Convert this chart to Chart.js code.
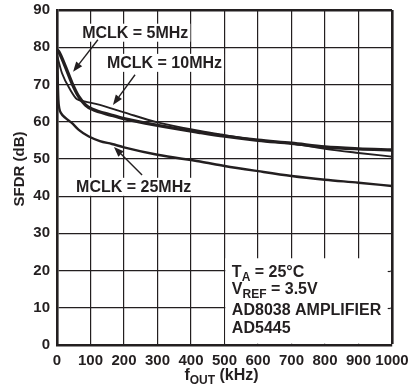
<!DOCTYPE html>
<html>
<head>
<meta charset="utf-8">
<script src="https://cdn.jsdelivr.net/npm/chart.js@4/dist/chart.umd.min.js"></script>
<style>
  html, body { margin: 0; padding: 0; background: #fff; }
  #wrap { width: 412px; height: 391px; }
</style>
</head>
<body>
<div id="wrap"><canvas id="c" width="412" height="391"></canvas></div>
<script>
// SFDR vs output frequency
var xTicks = [0, 100, 200, 300, 400, 500, 600, 700, 800, 900, 1000];
var yTicks = [0, 10, 20, 30, 40, 50, 60, 70, 80, 90];

var fOut5 = [1, 6, 25, 45, 65, 85, 104, 164, 200, 300, 427, 500, 600, 700, 800, 900, 1000];
var sfdr5 = [79.2, 78.7, 74.8, 70.3, 66.7, 64.5, 63.4, 61.7, 60.8, 59.0, 57.1, 56.1, 55.0, 54.2, 53.2, 52.7, 52.4];

var fOut10 = [1, 15, 40, 60, 85, 128, 164, 200, 300, 427, 500, 600, 700, 800, 900, 1000];
var sfdr10 = [77.5, 73.0, 68.5, 66.0, 65.4, 64.5, 63.5, 62.5, 59.8, 57.5, 56.4, 55.0, 54.1, 52.7, 51.6, 50.6];

var fOut25 = [0.5, 2, 4, 7, 12, 25, 45, 65, 95, 128, 164, 200, 300, 427, 500, 600, 700, 800, 900, 1000];
var sfdr25 = [77, 72, 66, 63.5, 62.3, 61.0, 59.6, 57.8, 56.0, 54.8, 54.0, 53.1, 51.1, 49.3, 48.1, 46.7, 45.4, 44.4, 43.6, 42.7];

var INK = '#231f20';
var FONT = '"Liberation Sans", Arial, Helvetica, sans-serif';

function pts(xs, ys) {
    var out = [];
    for (var i = 0; i < xs.length; i++) out.push({x: xs[i], y: ys[i]});
    return out;
}

// draws text with optional subscripts: parts = [[text, isSub], ...]
function richText(ctx, parts, x, y, size) {
    var cx = x;
    for (var i = 0; i < parts.length; i++) {
        var sub = parts[i][1];
        ctx.font = 'bold ' + (sub ? Math.round(size * 0.78) : size) + 'px ' + FONT;
        ctx.fillText(parts[i][0], cx, sub ? y + size * 0.3 : y);
        cx += ctx.measureText(parts[i][0]).width;
    }
    return cx - x;
}

function richWidth(ctx, parts, size) {
    var w = 0;
    for (var i = 0; i < parts.length; i++) {
        ctx.font = 'bold ' + (parts[i][1] ? Math.round(size * 0.78) : size) + 'px ' + FONT;
        w += ctx.measureText(parts[i][0]).width;
    }
    return w;
}

function arrow(ctx, x1, y1, x2, y2) {
    var a = Math.atan2(y2 - y1, x2 - x1);
    var len = 10, half = 3.8;
    var bx = x2 - len * Math.cos(a), by = y2 - len * Math.sin(a);
    ctx.strokeStyle = INK;
    ctx.lineWidth = 1.4;
    ctx.beginPath();
    ctx.moveTo(x1, y1);
    ctx.lineTo(bx, by);
    ctx.stroke();
    ctx.fillStyle = INK;
    ctx.beginPath();
    ctx.moveTo(x2, y2);
    ctx.lineTo(bx + half * Math.sin(a), by - half * Math.cos(a));
    ctx.lineTo(bx - half * Math.sin(a), by + half * Math.cos(a));
    ctx.closePath();
    ctx.fill();
}

// curve labels: text left/center in data units, arrow tail -> tip
var curveLabels = [
    {text: 'MCLK = 5MHz', x: 75, y: 83.9, ax: 122, ay: 82, tx: 48, ty: 73.4},
    {text: 'MCLK = 10MHz', x: 149, y: 75.8, ax: 233, ay: 72.6, tx: 167, ty: 64.5},
    {text: 'MCLK = 25MHz', x: 57, y: 42.5, ax: 254, ay: 45.7, tx: 170, ty: 53.2}
];

var noteLines = [
    [['T', false], ['A', true], [' = 25°C', false]],
    [['V', false], ['REF', true], [' = 3.5V', false]],
    [['AD8038 AMPLIFIER', false]],
    [['AD5445', false]]
];
var noteY = [19.6, 15.1, 9.4, 4.6];

var decor = {
    id: 'decor',
    beforeDatasetsDraw: function(chart) {
        var ctx = chart.ctx, xs = chart.scales.x, ys = chart.scales.y;
        // white note box over the grid, lower right
        var l = xs.getPixelForValue(500) + 0.8, r = xs.getPixelForValue(1000) - 1.3;
        var t = ys.getPixelForValue(23.3), b = ys.getPixelForValue(0) - 1.3;
        ctx.save();
        ctx.fillStyle = '#fff';
        ctx.fillRect(l, t, r - l, b - t);
        ctx.strokeStyle = INK;
        ctx.lineWidth = 1.2;
        [10, 20].forEach(function(v) {
            var y = Math.round(ys.getPixelForValue(v)) + 0.5;
            ctx.beginPath();
            ctx.moveTo(r - 3, y);
            ctx.lineTo(r, y);
            ctx.stroke();
        });
        ctx.restore();
    },
    afterDatasetsDraw: function(chart) {
        var ctx = chart.ctx, xs = chart.scales.x, ys = chart.scales.y;
        ctx.save();
        ctx.textBaseline = 'middle';
        ctx.textAlign = 'left';
        curveLabels.forEach(function(lb) {
            var px = xs.getPixelForValue(lb.x), py = ys.getPixelForValue(lb.y);
            ctx.font = 'bold 16px ' + FONT;
            var w = ctx.measureText(lb.text).width;
            ctx.fillStyle = '#fff';
            ctx.fillRect(px - 2, py - 9, w + 4, 18);
            ctx.fillStyle = INK;
            ctx.fillText(lb.text, px, py + 1);
            arrow(ctx, xs.getPixelForValue(lb.ax), ys.getPixelForValue(lb.ay),
                  xs.getPixelForValue(lb.tx), ys.getPixelForValue(lb.ty));
        });
        ctx.fillStyle = INK;
        noteLines.forEach(function(parts, i) {
            richText(ctx, parts, xs.getPixelForValue(522), ys.getPixelForValue(noteY[i]) + 1, 16);
        });

        // axis titles
        var xt = [['f', false], ['OUT', true], [' (kHz)', false]];
        var w = richWidth(ctx, xt, 16);
        richText(ctx, xt, (xs.left + xs.right) / 2 - w / 2 - 3, 376, 16);

        ctx.translate(19, 169);
        ctx.rotate(-Math.PI / 2);
        ctx.textAlign = 'center';
        ctx.font = 'bold 15px ' + FONT;
        ctx.fillText('SFDR (dB)', 0, 1);
        ctx.restore();
    }
};

function ds(label, data, width) {
    return {
        label: label,
        data: data,
        borderColor: INK,
        borderWidth: width,
        pointRadius: 0,
        fill: false,
        cubicInterpolationMode: 'monotone',
        borderCapStyle: 'round',
        borderJoinStyle: 'round'
    };
}

new Chart(document.getElementById('c'), {
    type: 'line',
    data: {
        datasets: [
            ds('MCLK = 5MHz', pts(fOut5, sfdr5), 3.4),
            ds('MCLK = 10MHz', pts(fOut10, sfdr10), 1.9),
            ds('MCLK = 25MHz', pts(fOut25, sfdr25), 2.4)
        ]
    },
    options: {
        responsive: false,
        animation: false,
        layout: {padding: {top: 10, right: 20, left: 0, bottom: 0}},
        plugins: {legend: {display: false}, tooltip: {enabled: false}},
        scales: {
            x: {
                type: 'linear',
                min: 0, max: 1000,
                afterBuildTicks: function(s) { s.ticks = xTicks.map(function(v) { return {value: v}; }); },
                afterFit: function(s) { s.height = 46; s.paddingLeft = 0; s.paddingRight = 0; },
                grid: {
                    color: INK,
                    drawTicks: false,
                    lineWidth: function(c) { return c.tick && c.tick.value === 1000 ? 2.6 : 1.2; }
                },
                border: {display: true, color: INK, width: 2.6},
                ticks: {
                    color: INK,
                    padding: 7,
                    maxRotation: 0,
                    autoSkip: false,
                    callback: function(v) { return String(v); },
                    font: {family: FONT, size: 15, weight: 'bold'}
                }
            },
            y: {
                type: 'linear',
                min: 0, max: 90,
                afterBuildTicks: function(s) { s.ticks = yTicks.map(function(v) { return {value: v}; }); },
                afterFit: function(s) { s.width = 57; s.paddingTop = 0; s.paddingBottom = 0; },
                grid: {
                    color: INK,
                    drawTicks: false,
                    lineWidth: function(c) { return c.tick && c.tick.value === 90 ? 2.6 : 1.2; }
                },
                border: {display: true, color: INK, width: 2.6},
                ticks: {
                    color: INK,
                    padding: 7,
                    autoSkip: false,
                    callback: function(v) { return String(v); },
                    font: {family: FONT, size: 15, weight: 'bold'}
                }
            }
        }
    },
    plugins: [decor]
});
</script>
</body>
</html>
